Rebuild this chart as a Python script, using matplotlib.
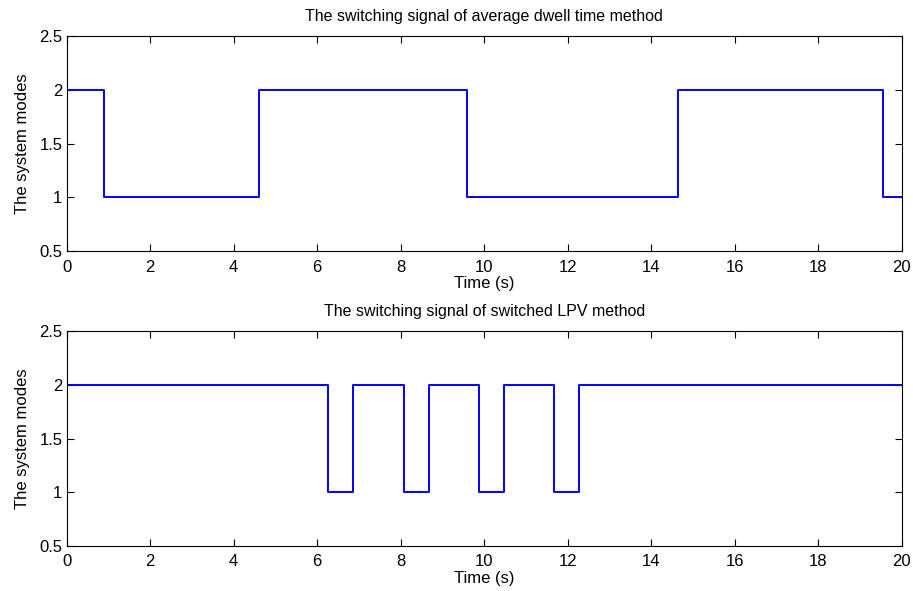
import matplotlib
matplotlib.use("Agg")
import matplotlib.pyplot as plt

plt.rcParams['font.family'] = ['Liberation Sans', 'DejaVu Sans']
plt.rcParams['font.size'] = 12

# switching instants (s) and the mode that starts at each instant
adt_times = [0, 0.89, 4.6, 9.6, 14.65, 19.55, 20]
adt_modes = [2, 1, 2, 1, 2, 1, 1]

lpv_times = [0, 6.27, 6.87, 8.07, 8.67, 9.87, 10.47, 11.67, 12.27, 20]
lpv_modes = [2, 1, 2, 1, 2, 1, 2, 1, 2, 2]

titles = ["The switching signal of average dwell time method",
          "The switching signal of switched LPV method"]

fig = plt.figure(figsize=(9.13, 5.91), dpi=100)
ax1 = fig.add_axes([0.073, 0.575, 0.9146, 0.364])
ax2 = fig.add_axes([0.073, 0.076, 0.9146, 0.364])

for ax, t, m, title in [(ax1, adt_times, adt_modes, titles[0]),
                        (ax2, lpv_times, lpv_modes, titles[1])]:
    ax.step(t, m, where='post', color='blue', lw=1.4)
    ax.set_xlim(0, 20)
    ax.set_ylim(0.5, 2.5)
    ax.set_xticks(range(0, 21, 2))
    ax.set_yticks([0.5, 1, 1.5, 2, 2.5])
    ax.set_yticklabels(['0.5', '1', '1.5', '2', '2.5'])
    ax.tick_params(direction='in', top=True, right=True, length=5, pad=3)
    ax.tick_params(axis='x', pad=6)
    ax.set_xlabel('Time (s)', labelpad=1)
    ax.set_ylabel('The system modes', labelpad=7)
    ax.set_title(title, fontsize=11.5, pad=11)

fig.savefig("out.png", dpi=100)
